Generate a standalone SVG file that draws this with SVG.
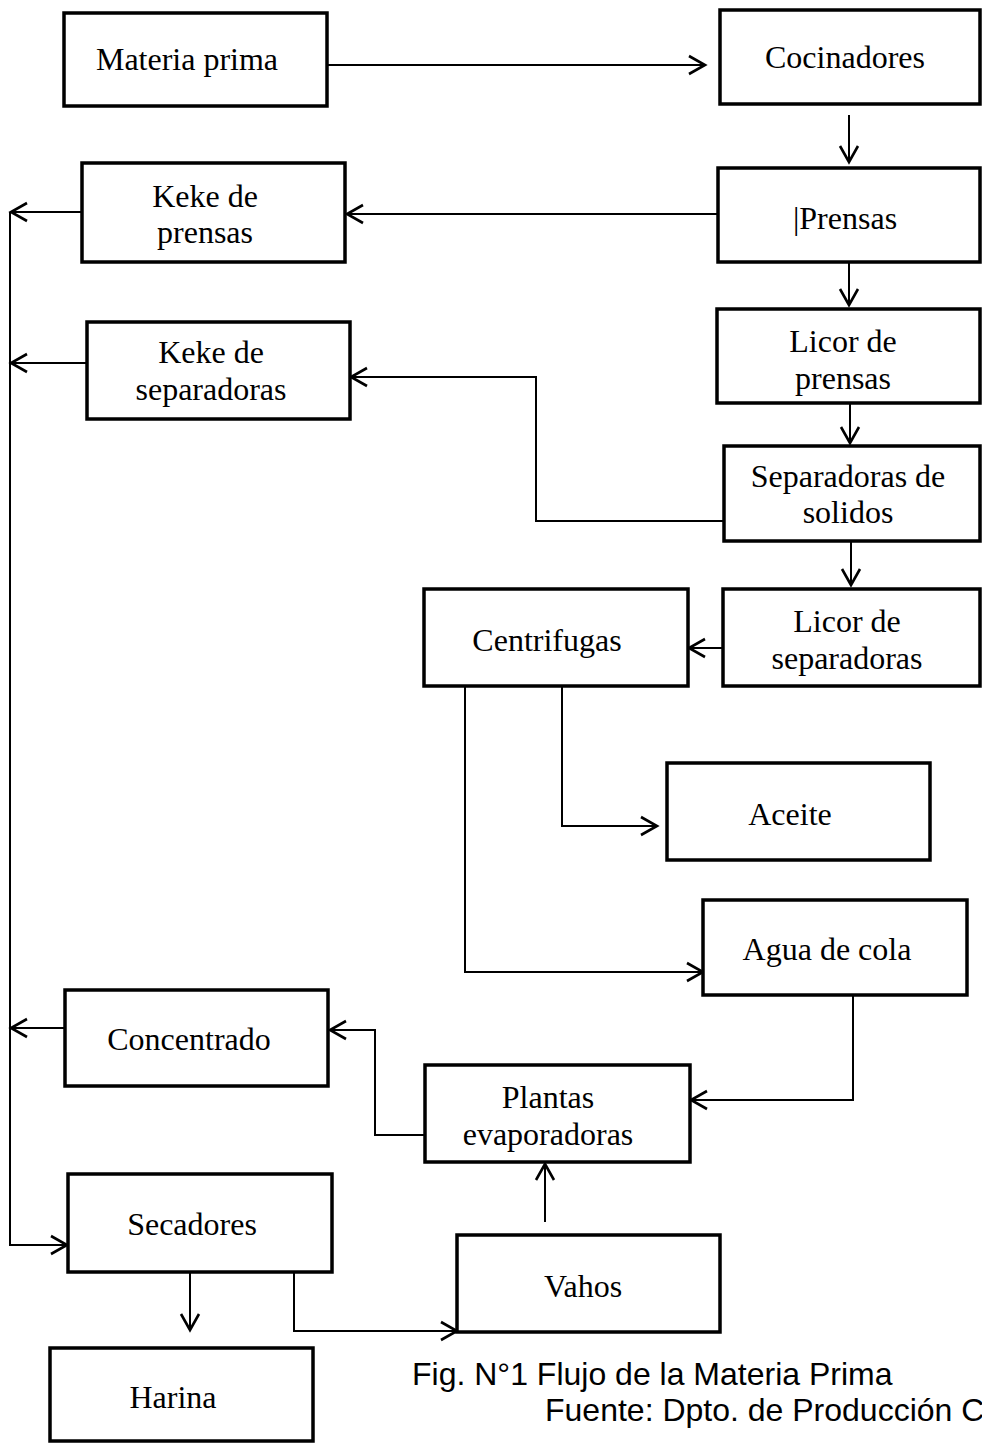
<svg xmlns="http://www.w3.org/2000/svg" width="982" height="1443" viewBox="0 0 982 1443">
<defs>
<marker id="ah" viewBox="0 0 24 24" refX="21" refY="12" markerWidth="24" markerHeight="24" markerUnits="userSpaceOnUse" orient="auto">
<path d="M5,3 L21,12 L5,21" fill="none" stroke="#000" stroke-width="2.6"/>
</marker>
<style>
.box{fill:#fff;stroke:#000;stroke-width:3.5}
.t{font-family:"Liberation Serif","Times New Roman",serif;font-size:32px;fill:#000;text-anchor:middle}
.c{fill:none;stroke:#000;stroke-width:2}
.cap{font-family:"Liberation Sans",Arial,sans-serif;font-size:32px;fill:#000}
</style>
</defs>
<rect width="982" height="1443" fill="#fff"/>
<g id="connectors">
<path class="c" d="M327,65 H705" marker-end="url(#ah)"/>
<path class="c" d="M849,115 V162" marker-end="url(#ah)"/>
<path class="c" d="M718,214 H347" marker-end="url(#ah)"/>
<path class="c" d="M82,212 H11" marker-end="url(#ah)"/>
<path class="c" d="M10,212 V1245 H67" marker-end="url(#ah)"/>
<path class="c" d="M849,263 V305" marker-end="url(#ah)"/>
<path class="c" d="M850,404 V443" marker-end="url(#ah)"/>
<path class="c" d="M724,521 H536 V377 H351" marker-end="url(#ah)"/>
<path class="c" d="M87,363 H11" marker-end="url(#ah)"/>
<path class="c" d="M851,541 V585" marker-end="url(#ah)"/>
<path class="c" d="M723,648 H689" marker-end="url(#ah)"/>
<path class="c" d="M562,686 V826 H657" marker-end="url(#ah)"/>
<path class="c" d="M465,686 V972 H703" marker-end="url(#ah)"/>
<path class="c" d="M853,995 V1100 H691" marker-end="url(#ah)"/>
<path class="c" d="M425,1135 H375 V1030 H330" marker-end="url(#ah)"/>
<path class="c" d="M65,1028 H11" marker-end="url(#ah)"/>
<path class="c" d="M190,1273 V1330" marker-end="url(#ah)"/>
<path class="c" d="M294,1272 V1331 H457" marker-end="url(#ah)"/>
<path class="c" d="M545,1222 V1164" marker-end="url(#ah)"/>
</g>
<g id="materia-prima"><rect class="box" x="64" y="13" width="263" height="93"/><text class="t" x="187" y="70">Materia prima</text></g>
<g id="cocinadores"><rect class="box" x="720" y="10" width="260" height="94"/><text class="t" x="845" y="68">Cocinadores</text></g>
<g id="prensas"><rect class="box" x="718" y="168" width="262" height="94"/><text class="t" x="845" y="229">|Prensas</text></g>
<g id="keke-prensas"><rect class="box" x="82" y="163" width="263" height="99"/><text class="t" x="205" y="207">Keke de</text><text class="t" x="205" y="243">prensas</text></g>
<g id="licor-prensas"><rect class="box" x="717" y="309" width="263" height="94"/><text class="t" x="843" y="352">Licor de</text><text class="t" x="843" y="389">prensas</text></g>
<g id="keke-separadoras"><rect class="box" x="87" y="322" width="263" height="97"/><text class="t" x="211" y="363">Keke de</text><text class="t" x="211" y="400">separadoras</text></g>
<g id="separadoras-solidos"><rect class="box" x="724" y="446" width="256" height="95"/><text class="t" x="848" y="487">Separadoras de</text><text class="t" x="848" y="523">solidos</text></g>
<g id="licor-separadoras"><rect class="box" x="723" y="589" width="257" height="97"/><text class="t" x="847" y="632">Licor de</text><text class="t" x="847" y="669">separadoras</text></g>
<g id="centrifugas"><rect class="box" x="424" y="589" width="264" height="97"/><text class="t" x="547" y="651">Centrifugas</text></g>
<g id="aceite"><rect class="box" x="667" y="763" width="263" height="97"/><text class="t" x="790" y="825">Aceite</text></g>
<g id="agua-cola"><rect class="box" x="703" y="900" width="264" height="95"/><text class="t" x="827" y="960">Agua de cola</text></g>
<g id="concentrado"><rect class="box" x="65" y="990" width="263" height="96"/><text class="t" x="189" y="1050">Concentrado</text></g>
<g id="plantas"><rect class="box" x="425" y="1065" width="265" height="97"/><text class="t" x="548" y="1108">Plantas</text><text class="t" x="548" y="1145">evaporadoras</text></g>
<g id="secadores"><rect class="box" x="68" y="1174" width="264" height="98"/><text class="t" x="192" y="1235">Secadores</text></g>
<g id="vahos"><rect class="box" x="457" y="1235" width="263" height="97"/><text class="t" x="583" y="1297">Vahos</text></g>
<g id="harina"><rect class="box" x="50" y="1348" width="263" height="93"/><text class="t" x="173" y="1408">Harina</text></g>
<g id="caption">
<text class="cap" x="412" y="1385">Fig. N°1 Flujo de la Materia Prima</text>
<text class="cap" x="545" y="1421">Fuente: Dpto. de Producción C</text>
</g>
</svg>
